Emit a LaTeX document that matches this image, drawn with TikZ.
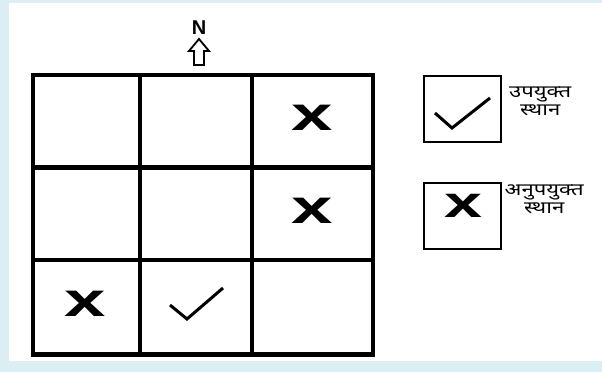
\documentclass[tikz,border=0pt]{standalone}
\usepackage{fontspec}
\usepackage{graphicx}
\setsansfont{Liberation Sans}
\newfontfamily\devfont[Script=Devanagari]{Noto Sans}
\usetikzlibrary{positioning,calc}
\definecolor{frameblue}{HTML}{DAEEF4}
\newcommand{\widetext}[1]{\scalebox{1.3}[1]{#1}}

\begin{document}
\begin{tikzpicture}[
    x=1pt, y=-1pt,
    gridline/.style={line width=4.5pt},
    keybox/.style={draw, line width=2pt, minimum width=77pt, minimum height=66pt, inner sep=0pt},
    cross/.style={font=\sffamily\bfseries\fontsize{48}{48}\selectfont, inner sep=0pt},
    tick/.style={line width=3pt, line join=miter},
    keytext/.style={font=\devfont\fontsize{17}{18}\selectfont, align=center, inner sep=0pt},
    northarrow/.style={line width=1.8pt, line join=miter},
]

% page and frame
\fill[frameblue] (0,0) rectangle (602,372);
\fill[white] (9,3) rectangle (602,361);

% 3x3 site grid
\draw[gridline] (33,75) rectangle (373,354.5);
\draw[gridline] (140,75) -- (140,354.5) (252,75) -- (252,354.5);
\draw[gridline] (33,167.5) -- (373,167.5) (33,260) -- (373,260);

% north sign
\node[font=\sffamily\bfseries\fontsize{20}{20}\selectfont, inner sep=0pt] (north) at (199,27.5) {N};
\coordinate (arrowtip) at (199,39);
\draw[northarrow] (arrowtip) -- ++(10,12) -- ++(-5,0) -- ++(0,14) -- ++(-10,0) -- ++(0,-14) -- ++(-5,0) -- cycle;

% marks in the grid
\node[cross] (c13) at (312.5,118) {\scalebox{1.55}[1]{x}};
\node[cross] (c23) at (312.5,211) {\scalebox{1.55}[1]{x}};
\node[cross] (c31) at (85.5,304) {\scalebox{1.55}[1]{x}};
\draw[tick] (170,305) -- (187,319) -- (223,288);

% key
\node[keybox] (okbox) at (462.5,109) {};
\node[keybox] (badbox) at (462,216) {};
\draw[tick] (435,113) -- (452,128) -- (490,98);
\node[cross, font=\sffamily\bfseries\fontsize{44}{44}\selectfont] (badmark) at (463,206) {\scalebox{1.55}[1]{x}};
\node[keytext, right=7pt of okbox, yshift=8pt] (oktext) {\widetext{उपयुक्त}\\\widetext{स्थान}};
\node[keytext, right=3pt of badbox, yshift=17pt] (badtext) {\widetext{अनुपयुक्त}\\\widetext{स्थान}};

\end{tikzpicture}
\end{document}
